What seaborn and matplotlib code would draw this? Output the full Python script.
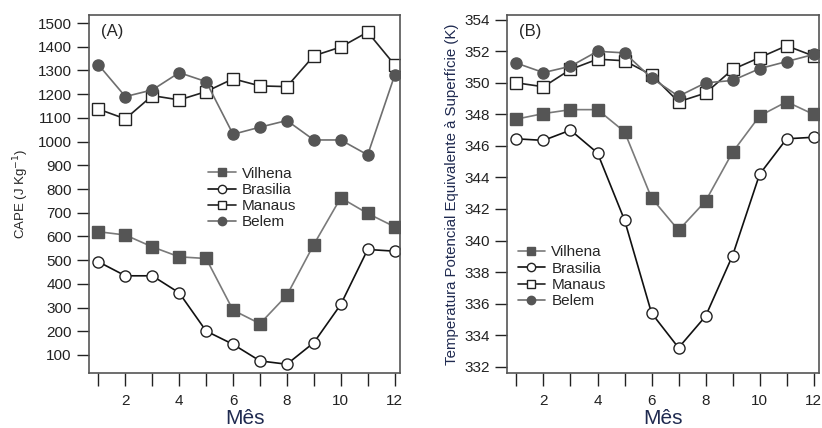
import matplotlib
matplotlib.use("Agg")
import matplotlib.pyplot as plt
import seaborn as sns

# Dados (médias mensais)
meses = list(range(1, 13))
estacoes = ["Vilhena", "Brasilia", "Manaus", "Belem"]

cape_vilhena = [620, 606, 556, 514, 507, 289, 232, 352, 566, 763, 697, 641]
cape_brasilia = [493, 434, 434, 362, 201, 145, 75, 61, 152, 313, 545, 538]
cape_manaus = [1137, 1096, 1194, 1176, 1211, 1265, 1235, 1232, 1362, 1399, 1462, 1324]
cape_belem = [1324, 1190, 1218, 1291, 1253, 1031, 1061, 1089, 1007, 1007, 944, 1279]

thetae_vilhena = [347.7, 348.05, 348.3, 348.3, 346.9, 342.7, 340.65, 342.5, 345.6, 347.9, 348.8, 348.0]
thetae_brasilia = [346.45, 346.35, 347.0, 345.55, 341.3, 335.4, 333.2, 335.2, 339.05, 344.2, 346.45, 346.55]
thetae_manaus = [350.0, 349.75, 350.85, 351.5, 351.4, 350.5, 348.8, 349.35, 350.85, 351.6, 352.35, 351.7]
thetae_belem = [351.25, 350.65, 351.05, 352.0, 351.9, 350.3, 349.15, 350.0, 350.15, 350.9, 351.35, 351.8]

cape = [cape_vilhena, cape_brasilia, cape_manaus, cape_belem]
thetae = [thetae_vilhena, thetae_brasilia, thetae_manaus, thetae_belem]

# estilo de cada estacao
estilo = {
    "Vilhena": dict(color="#7a7a7a", marker="s", markerfacecolor="#555555", markeredgecolor="#555555"),
    "Brasilia": dict(color="#111111", marker="o", markerfacecolor="white", markeredgecolor="#222222"),
    "Manaus": dict(color="#222222", marker="s", markerfacecolor="white", markeredgecolor="#222222"),
    "Belem": dict(color="#6e6e6e", marker="o", markerfacecolor="#555555", markeredgecolor="#555555"),
}

sns.set_style("ticks")
plt.rcParams["font.family"] = ["Liberation Sans", "DejaVu Sans"]

fig = plt.figure(figsize=(8.22, 4.28), dpi=100)
ax1 = fig.add_axes([0.1083, 0.1285, 0.3783, 0.8364])
ax2 = fig.add_axes([0.6168, 0.1285, 0.3796, 0.8364])

cor_label = "#1f2a50"

for ax, dados in [(ax1, cape), (ax2, thetae)]:
    for nome, vals in zip(estacoes, dados):
        sns.lineplot(x=meses, y=vals, ax=ax, label=nome, linewidth=1.2,
                     markersize=8, markeredgewidth=1.0, **estilo[nome])
    ax.set_xlim(0.65, 12.2)
    ax.set_xticks(meses)
    ax.set_xticklabels([str(m) if m % 2 == 0 else "" for m in meses])
    ax.tick_params(axis="both", direction="out", length=9, width=1.0,
                   labelsize=11, colors="#222222")
    ax.tick_params(axis="x", pad=6)
    for s in ax.spines.values():
        s.set_color("#555555")
        s.set_linewidth(1.2)
    ax.set_xlabel("Mês", fontsize=15, color=cor_label, labelpad=1)

# Painel A
ax1.set_ylim(24, 1534)
ax1.set_yticks(range(100, 1501, 100))
ax1.set_ylabel("CAPE (J Kg$^{-1}$)", fontsize=9.5, labelpad=5)
ax1.text(0.04, 0.975, "(A)", transform=ax1.transAxes, fontsize=12, va="top")
ax1.legend(loc="upper left", bbox_to_anchor=(0.34, 0.615), frameon=False,
           fontsize=11, handlelength=1.8, handletextpad=0.4, labelspacing=0.15,
           markerscale=0.75)

# Painel B
ax2.set_ylim(331.6, 354.3)
ax2.set_yticks(range(332, 355, 2))
ax2.set_ylabel("Temperatura Potencial Equivalente à Superfície (K)",
               fontsize=10.8, color=cor_label, labelpad=4)
ax2.text(0.04, 0.975, "(B)", transform=ax2.transAxes, fontsize=12, va="top")
ax2.legend(loc="upper left", bbox_to_anchor=(-0.01, 0.395), frameon=False,
           fontsize=11, handlelength=1.8, handletextpad=0.4, labelspacing=0.15,
           markerscale=0.75)

fig.savefig("out.png", dpi=100)
